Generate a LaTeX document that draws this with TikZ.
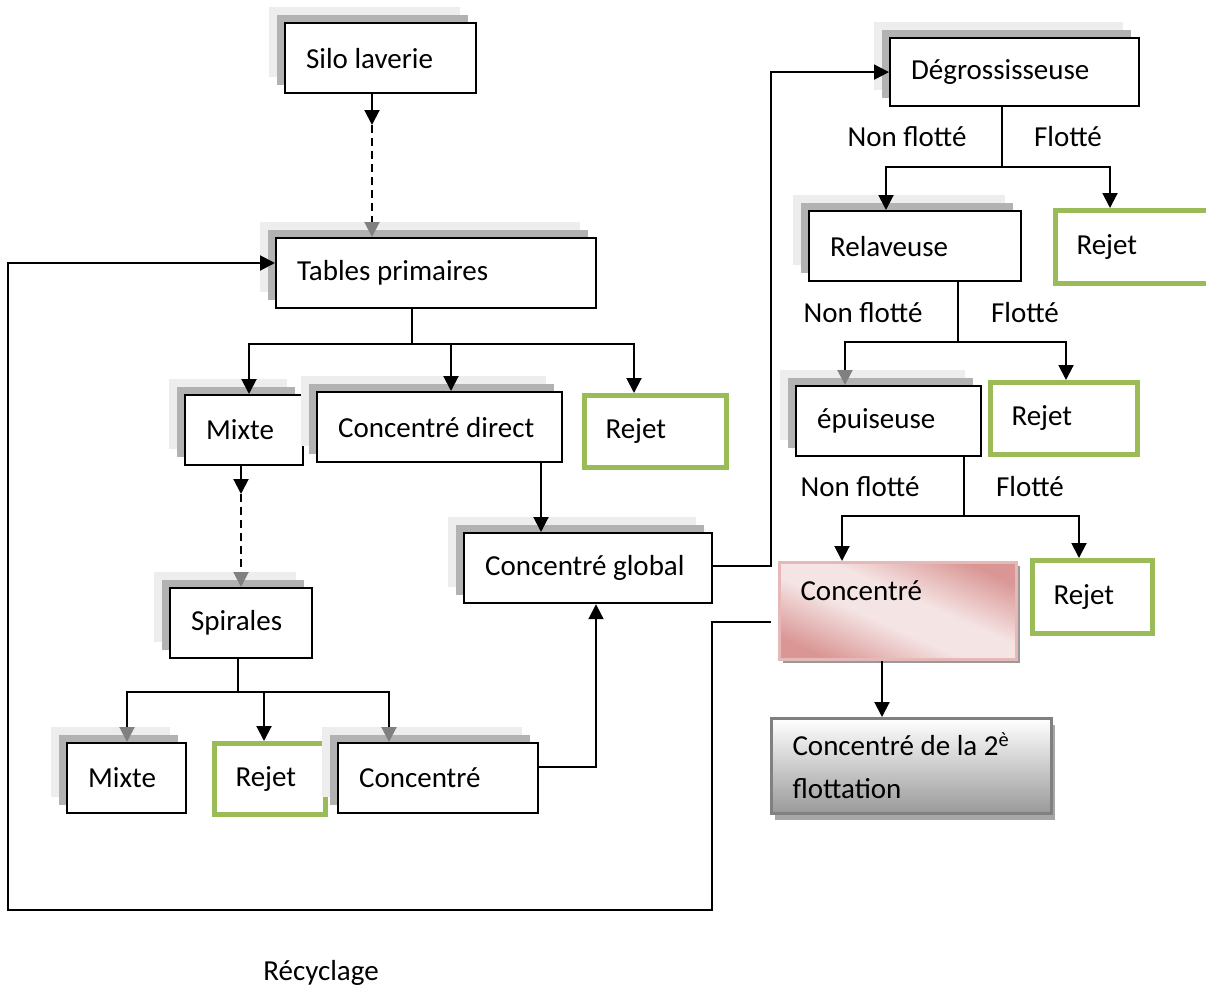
\documentclass[tikz,border=0pt]{standalone}
\usepackage{fontspec}
\setmainfont{Carlito}
\usetikzlibrary{positioning,shadows,arrows.meta}
\definecolor{rejetgreen}{HTML}{9BBB59}
\definecolor{pinkdark}{HTML}{D99694}
\definecolor{pinklight}{HTML}{F5E4E4}
\definecolor{pinkline}{HTML}{E6B9B8}
\pgfdeclareverticalshading{pinkshade}{100bp}{color(0bp)=(pinkdark); color(24bp)=(pinkdark);
    color(44bp)=(pinklight); color(56bp)=(pinklight); color(76bp)=(pinkdark); color(100bp)=(pinkdark)}

\begin{document}
\begin{tikzpicture}[x=1pt,y=-1pt,font=\fontsize{29}{36}\selectfont,
    box/.style={draw,line width=2.2pt,fill=white,anchor=north west,align=flush left,
                inner xsep=21pt,inner ysep=0pt,minimum height=70pt},
    shad/.style={general shadow={fill=black!7,shadow xshift=-16pt,shadow yshift=16pt},
                 general shadow={fill=black!30,shadow xshift=-8pt,shadow yshift=8pt}},
    rejet/.style={box,draw=rejetgreen,line width=5pt,text width=100pt},
    arr/.style={line width=2pt,-{Triangle[width=15pt,length=15pt]}},
    garr/.style={line width=2pt,-{Triangle[width=15pt,length=15pt,color=gray]}},
    dashline/.style={dash pattern=on 8pt off 5pt}]
    \useasboundingbox (0,0) rectangle (1206,990);

    \node[box,shad,text width=149pt] (silo)    at (284,22)  {Silo laverie};
    \node[box,shad,text width=278pt] (tables)  at (275,237) {Tables primaires};
    \node[box,shad,text width=76pt]  (mixte1)  at (184,394) {Mixte};
    \node[box,shad,text width=203pt] (cdirect) at (316,391) {Concentré direct};
    \node[rejet,minimum height=72pt] (rejet1)  at (582,393) {Rejet};
    \node[box,shad,text width=206pt] (cglobal) at (463,532) {Concentré global};
    \node[box,shad,text width=100pt] (spirales) at (169,587) {Spirales};
    \node[box,shad,text width=77pt]  (mixte2)  at (66,742)  {Mixte};
    \node[rejet,text width=69pt,minimum height=71pt] (rejet2) at (212,741) {Rejet};
    \node[box,shad,text width=158pt] (conc2)   at (337,742) {Concentré};

    \node[box,shad,text width=207pt,minimum height=68pt] (degros) at (889,37) {Dégrossisseuse};
    \node[box,shad,text width=170pt] (relav)   at (808,210) {Relaveuse};
    \node[rejet,text width=120pt,minimum height=73pt] (rejet3) at (1053,208) {Rejet};
    \node[box,shad,text width=143pt] (epuis)   at (795,385) {épuiseuse};
    \node[rejet,text width=105pt,minimum height=72pt] (rejet4) at (988,380) {Rejet};
    \node[box,draw=pinkline,line width=3pt,text width=195pt,minimum height=97pt,text depth=41pt,
          general shadow={fill=black!40,shadow xshift=3pt,shadow yshift=-3pt},
          shading=pinkshade,shading angle=-24]
          (pink) at (778,561) {Concentré};
    \node[rejet,text width=78pt,minimum height=73pt] (rejet5) at (1030,558) {Rejet};
    \node[box,draw=black!50,line width=3pt,text width=238pt,minimum height=95pt,
          font=\fontsize{29}{43}\selectfont,
          general shadow={fill=black!35,shadow xshift=3pt,shadow yshift=-6pt},
          top color=white,bottom color=black!40]
          (final) at (770,717) {Concentré de la 2\textsuperscript{è}\\flottation};

    \node (nf1) at (907,137) {Non flotté};
    \node (fl1) at (1068,137) {Flotté};
    \node (nf2) at (863,313) {Non flotté};
    \node (fl2) at (1025,313) {Flotté};
    \node (nf3) at (860,487) {Non flotté};
    \node (fl3) at (1030,487) {Flotté};
    \node (recyc) at (321,973) {Récyclage};

    \coordinate (d1) at (372,125);
    \draw[arr] (silo.south -| d1) -- (d1);
    \draw[garr,dashline] (d1) -- (d1 |- tables.north);

    \coordinate (t0) at (412,344);
    \coordinate (ta) at (249,344);
    \coordinate (tb) at (451,344);
    \coordinate (tc) at (634,344);
    \draw[arr] (tables.south -| t0) -- (t0) -| (ta |- mixte1.north);
    \draw[arr] (t0) -| (tc |- rejet1.north);
    \draw[arr] (tb) -- (tb |- cdirect.north);

    \coordinate (cd) at (541,470);
    \draw[arr] (cdirect.south -| cd) -- (cd |- cglobal.north);

    \coordinate (d2) at (241,494);
    \draw[arr] (mixte1.south -| d2) -- (d2);
    \draw[garr,dashline] (d2) -- (d2 |- spirales.north);

    \coordinate (s0) at (238,692);
    \coordinate (sa) at (127,692);
    \coordinate (sb) at (264,692);
    \coordinate (sc) at (389,692);
    \draw[garr] (spirales.south -| s0) -- (s0) -| (sa |- mixte2.north);
    \draw[garr] (s0) -| (sc |- conc2.north);
    \draw[arr] (sb) -- (sb |- rejet2.north);

    \coordinate (c1) at (596,767);
    \draw[arr] (conc2.east |- c1) -- (c1) -- (c1 |- cglobal.south);

    \coordinate (c2) at (771,566);
    \draw[arr] (cglobal.east |- c2) -- (c2) |- (degros.west);

    \coordinate (g0) at (1002,167);
    \coordinate (ga) at (886,167);
    \coordinate (gc) at (1110,167);
    \draw[arr] (degros.south -| g0) -- (g0) -| (ga |- relav.north);
    \draw[arr] (g0) -| (gc |- rejet3.north);

    \coordinate (v0) at (958,342);
    \coordinate (va) at (845,342);
    \coordinate (vc) at (1066,342);
    \draw[garr] (relav.south -| v0) -- (v0) -| (va |- epuis.north);
    \draw[arr] (v0) -| (vc |- rejet4.north);

    \coordinate (e0) at (964,516);
    \coordinate (ea) at (842,516);
    \coordinate (ec) at (1079,516);
    \draw[arr] (epuis.south -| e0) -- (e0) -| (ea |- pink.north);
    \draw[arr] (e0) -| (ec |- rejet5.north);

    \coordinate (pf) at (882,690);
    \draw[arr] (pink.south -| pf) -- (pf |- final.north);

    \coordinate (rc0) at (771,622);
    \coordinate (rc1) at (712,910);
    \coordinate (rc2) at (8,910);
    \coordinate (rc3) at (8,263);
    \draw[arr] (rc0) -- (rc0 -| rc1) -- (rc1) -- (rc2) -- (rc3) -- (rc3 -| tables.west);
\end{tikzpicture}
\end{document}
